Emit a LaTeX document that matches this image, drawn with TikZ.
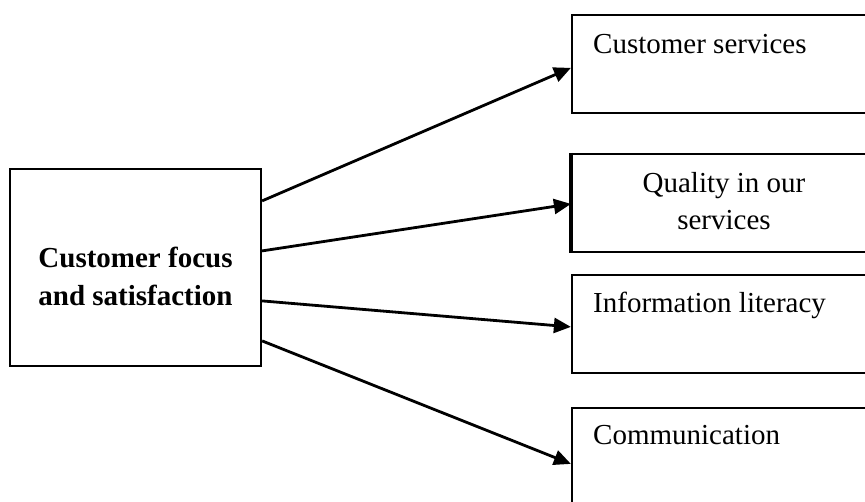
\documentclass[tikz,border=0pt]{standalone}
\usepackage{fontspec}
\setmainfont{Liberation Serif}
\usetikzlibrary{arrows.meta}
\tikzset{
  box/.style={draw, line width=2.2pt, rectangle, inner sep=0pt},
  sidebox/.style={box, minimum width=304pt, minimum height=98pt},
  label/.style={font=\fontsize{29}{37}\selectfont, inner sep=0pt, anchor=base west},
  arr/.style={line width=2.8pt, -{Triangle[length=17pt,width=15pt]}},
}
\begin{document}
\begin{tikzpicture}[x=1pt, y=-1pt]
  \useasboundingbox (0,0) rectangle (865,502);
  % central box
  \node[box, minimum width=251pt, minimum height=197pt] (hub) at (135.5,267.5) {};
  \node[font=\fontsize{29}{38}\selectfont\bfseries, align=center, inner sep=0pt, anchor=base] (hubtxt) at (135.5,306) {Customer focus\\and satisfaction};
  % outcome boxes
  \node[sidebox] (b1) at (724,64) {};
  \node[sidebox] (b2) at (724,203) {};
  \node[sidebox] (b3) at (724,324) {};
  \node[sidebox] (b4) at (724,457) {};
  \draw[line width=3.4pt] (b2.north west) -- (b2.south west);
  % labels
  \node[label] (t1) at (593,54) {Customer services};
  \node[font=\fontsize{29}{37}\selectfont, align=center, inner sep=0pt, anchor=base] (t2) at (724,230) {Quality in our\\services};
  \node[label] (t3) at (593,313) {Information literacy};
  \node[label] (t4) at (593,445) {Communication};
  % connectors
  \draw[arr] ([yshift=-33pt]hub.north east) -- ([yshift=-54pt]b1.north west);
  \draw[arr] ([yshift=-83pt]hub.north east) -- ([yshift=-51pt]b2.north west);
  \draw[arr] ([yshift=-133pt]hub.north east) -- ([yshift=-53pt]b3.north west);
  \draw[arr] ([yshift=-173pt]hub.north east) -- ([yshift=-57pt]b4.north west);
\end{tikzpicture}
\end{document}
